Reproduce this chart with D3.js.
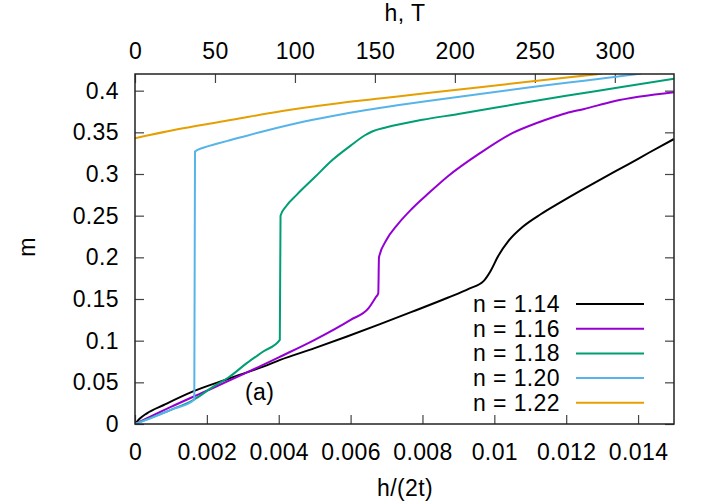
<!DOCTYPE html>
<html>
<head>
<meta charset="utf-8">
<script src="https://cdn.jsdelivr.net/npm/d3@7"></script>
<style>
  body { margin: 0; background: #fff; }
  svg { font-family: "Liberation Sans", Arial, sans-serif; }
  .lbl { font-size: 23px; letter-spacing: 0.4px; fill: #000; }
</style>
</head>
<body>
<svg id="chart" width="718" height="503"></svg>
<script>
// series: [h/(2t), m]
var n114 = [[0,0],[0.00012,0.006],[0.00033,0.0128],[0.0008,0.0228],[0.0016,0.0388],[0.00264,0.0549],
  [0.00357,0.0689],[0.00404,0.0769],[0.005,0.091],[0.0059,0.105],[0.0068,0.1195],[0.0077,0.1345],
  [0.0087,0.1515],[0.0093,0.1625],[0.0097,0.1715],[0.0099,0.184],[0.0101,0.201],[0.0104,0.220],
  [0.0108,0.237],[0.0113,0.252],[0.0118,0.265],[0.0124,0.28],[0.013,0.2945],[0.0137,0.311],
  [0.0143,0.3255],[0.015,0.342]];
var n116 = [[0,0],[0.001,0.0205],[0.002,0.040],[0.003,0.0595],[0.004,0.080],[0.005,0.101],
  [0.006,0.125],[0.0065,0.139],[0.0067,0.152],[0.00677,0.157],[0.00679,0.200],[0.0070,0.221],
  [0.0073,0.239],[0.0077,0.258],[0.0082,0.278],[0.0087,0.297],[0.0096,0.325],[0.0105,0.349],
  [0.0112,0.3615],[0.0117,0.369],[0.0120,0.373],[0.0125,0.378],[0.0133,0.387],[0.015,0.398]];
var n118 = [[0,0],[0.0005,0.0085],[0.001,0.017],[0.00162,0.0288],[0.00218,0.0448],[0.00264,0.057],
  [0.00311,0.073],[0.00357,0.087],[0.00403,0.101],[0.00405,0.250],[0.0042,0.261],[0.0045,0.275],
  [0.005,0.296],[0.0055,0.317],[0.006,0.334],[0.0064,0.3465],[0.0066,0.351],[0.007,0.356],
  [0.008,0.365],[0.009,0.372],[0.0105,0.383],[0.012,0.394],[0.0135,0.404],[0.015,0.4144]];
var n120 = [[0,0],[0.0005,0.008],[0.001,0.017],[0.00165,0.029],[0.00167,0.327],[0.0019,0.3315],
  [0.0023,0.3365],[0.00264,0.3405],[0.0035,0.3505],[0.0045,0.361],[0.0055,0.3697],[0.0064,0.3765],
  [0.0073,0.3825],[0.0082,0.388],[0.0096,0.396],[0.011,0.404],[0.0125,0.412],[0.0141,0.4205]];
var n122 = [[0,0.343],[0.0013,0.3545],[0.0027,0.365],[0.0041,0.3755],[0.0055,0.384],[0.0068,0.3905],
  [0.0082,0.3975],[0.0096,0.404],[0.011,0.411],[0.0128,0.4195],[0.0130,0.4205]];

var names = ["n = 1.14", "n = 1.16", "n = 1.18", "n = 1.20", "n = 1.22"];
var colors = ["#000000", "#9400d3", "#009e73", "#56b4e9", "#e69f00"];
var series = [n114, n116, n118, n120, n122];

var xTicks = [0, 0.002, 0.004, 0.006, 0.008, 0.01, 0.012, 0.014];
var x2Ticks = [0, 50, 100, 150, 200, 250, 300];
var yTicks = [0, 0.05, 0.1, 0.15, 0.2, 0.25, 0.3, 0.35, 0.4];

var L = 135, R = 674, T = 74, B = 424;
var svg = d3.select("#chart");

var x = d3.scaleLinear().domain([0, 0.015]).range([L, R]);
var x2 = d3.scaleLinear().domain([0, 337]).range([L, R]);
var y = d3.scaleLinear().domain([0, 0.42]).range([B, T]);

svg.append("clipPath").attr("id", "clip")
  .append("rect").attr("x", L).attr("y", T).attr("width", R - L).attr("height", B - T);

function styleAxis(g) {
  g.select(".domain").remove();
  g.selectAll(".tick line").attr("stroke", "#444").attr("stroke-width", 1.2);
  g.selectAll(".tick text").attr("class", "lbl").attr("font-size", null).attr("font-family", null);
}

svg.append("g").attr("transform", "translate(0," + B + ")")
  .call(d3.axisBottom(x).tickValues(xTicks).tickSize(-9).tickPadding(20)
    .tickFormat(function (d) { return String(+d.toFixed(3)); }))
  .call(styleAxis);

svg.append("g").attr("transform", "translate(0," + T + ")")
  .call(d3.axisTop(x2).tickValues(x2Ticks).tickSize(-9).tickPadding(15).tickFormat(d3.format("d")))
  .call(styleAxis);

svg.append("g").attr("transform", "translate(" + L + ",0)")
  .call(d3.axisLeft(y).tickValues(yTicks).tickSize(-9).tickPadding(16)
    .tickFormat(function (d) { return String(+d.toFixed(2)); }))
  .call(styleAxis);

svg.append("g").attr("transform", "translate(" + R + ",0)")
  .call(d3.axisRight(y).tickValues(yTicks).tickSize(-9).tickFormat(""))
  .call(styleAxis);

var line = d3.line()
  .x(function (d) { return x(d[0]); })
  .y(function (d) { return y(d[1]); })
  .curve(d3.curveMonotoneX);

svg.append("g").attr("clip-path", "url(#clip)")
  .selectAll("path").data(series).enter().append("path")
  .attr("d", line)
  .attr("fill", "none")
  .attr("stroke", function (d, i) { return colors[i]; })
  .attr("stroke-width", 2);

svg.append("rect").attr("x", L).attr("y", T).attr("width", R - L).attr("height", B - T)
  .attr("fill", "none").attr("stroke", "#222").attr("stroke-width", 1.5);

// legend
var leg = svg.append("g");
names.forEach(function (nm, i) {
  var yy = 304 + i * 24.7;
  leg.append("text").attr("class", "lbl").attr("x", 560).attr("y", yy).attr("dy", "0.35em")
    .attr("text-anchor", "end").text(nm);
  leg.append("line").attr("x1", 576).attr("x2", 644).attr("y1", yy).attr("y2", yy)
    .attr("stroke", colors[i]).attr("stroke-width", 2);
});

svg.append("text").attr("class", "lbl").attr("x", 245).attr("y", 400).text("(a)");

svg.append("text").attr("class", "lbl").attr("x", 405).attr("y", 496)
  .attr("text-anchor", "middle").text("h/(2t)");
svg.append("text").attr("class", "lbl").attr("x", 405).attr("y", 21)
  .attr("text-anchor", "middle").text("h, T");
svg.append("text").attr("class", "lbl").attr("transform", "translate(35,247) rotate(-90)")
  .attr("text-anchor", "middle").text("m");
</script>
</body>
</html>
